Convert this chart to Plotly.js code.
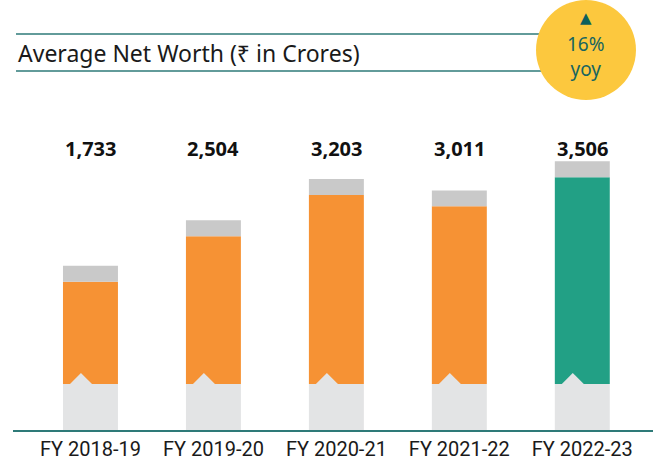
<!DOCTYPE html>
<html><head><meta charset="utf-8">
<script src="https://cdn.plot.ly/plotly-3.0.1.min.js"></script>
<style>html,body{margin:0;padding:0;background:#fff}</style>
</head><body>
<div id="chart" style="width:653px;height:465px"></div>
<script>
const categories = ["FY 2018-19", "FY 2019-20", "FY 2020-21", "FY 2021-22", "FY 2022-23"];
const values = [1733, 2504, 3203, 3011, 3506];
const valueLabels = ["1,733", "2,504", "3,203", "3,011", "3,506"];
const barColors = ["#F69234", "#F69234", "#F69234", "#F69234", "#22A085"];
const titleText = "Average Net Worth (₹ in Crores)";
const yoyText = "16%<br>yoy";

const W = 0.447, CAP = 270, BASE = 780;
const idx = categories.map((c, i) => i);

const traces = [
  { type: "bar", x: idx, y: categories.map(() => BASE), base: categories.map(() => -BASE),
    width: W, marker: { color: "#E3E4E5" }, hoverinfo: "skip" },
  { type: "bar", x: idx, y: values, base: categories.map(() => 0),
    width: W, marker: { color: barColors }, hoverinfo: "skip" },
  { type: "bar", x: idx, y: categories.map(() => CAP), base: values,
    width: W, marker: { color: "#C9C9C9" }, hoverinfo: "skip" }
];

const shapes = idx.map(i => {
  const l = i - W / 2;
  return { type: "path", xref: "x", yref: "y", layer: "above",
    path: `M ${l + 0.057} 0 L ${l + 0.146} 186 L ${l + 0.236} 0 Z`,
    fillcolor: "#E3E4E5", line: { width: 0 } };
});
shapes.push(
  { type: "line", xref: "paper", yref: "paper", x0: 0.0047, x1: 0.86, y0: 1.2, y1: 1.2,
    line: { color: "#2E7A78", width: 1.5 } },
  { type: "line", xref: "paper", yref: "paper", x0: 0.0047, x1: 0.86, y0: 1.088, y1: 1.088,
    line: { color: "#2E7A78", width: 1.5 } },
  { type: "circle", xref: "paper", yref: "paper", x0: 0.8172, x1: 0.9734, y0: 1.0, y1: 1.303,
    fillcolor: "#FCC83E", line: { width: 0 }, layer: "above" }
);

const annotations = idx.map(i => ({
  x: i, y: 0.8545, xref: "x", yref: "paper", xanchor: "center", yanchor: "middle",
  text: "<b>" + valueLabels[i] + "</b>",
  showarrow: false, font: { family: "Open Sans", size: 20, color: "#111" }
}));
annotations.push(
  { x: 0.0047, y: 1.1424, xref: "paper", yref: "paper", xanchor: "left", yanchor: "middle",
    text: titleText, showarrow: false, font: { family: "Noto Sans", size: 23, color: "#1a1a1a" } },
  { x: 0.8953, y: 1.2485, xref: "paper", yref: "paper", text: "▲", showarrow: false,
    xanchor: "center", yanchor: "middle",
    font: { family: "DejaVu Sans", size: 15, color: "#0E5F5C" } },
  { x: 0.8953, y: 1.1333, xref: "paper", yref: "paper", text: yoyText, showarrow: false,
    xanchor: "center", yanchor: "middle", align: "center",
    font: { family: "Noto Sans", size: 19, color: "#176560" } }
);

const layout = {
  width: 653, height: 465,
  margin: { l: 13, r: 0, t: 100, b: 35 },
  paper_bgcolor: "#fff", plot_bgcolor: "#fff",
  showlegend: false, barmode: "overlay",
  xaxis: { range: [-0.63, 4.575], tickvals: idx, ticktext: categories,
    showline: true, linecolor: "#2E7A78", linewidth: 2, showgrid: false, zeroline: false,
    ticks: "", tickfont: { family: "Roboto", size: 20, color: "#1a1a1a" },
    fixedrange: true },
  yaxis: { range: [-780, 4813.6], visible: false, showgrid: false, zeroline: false, fixedrange: true },
  shapes: shapes, annotations: annotations
};

Plotly.newPlot("chart", traces, layout, { displayModeBar: false, staticPlot: true });
</script>
</body></html>
